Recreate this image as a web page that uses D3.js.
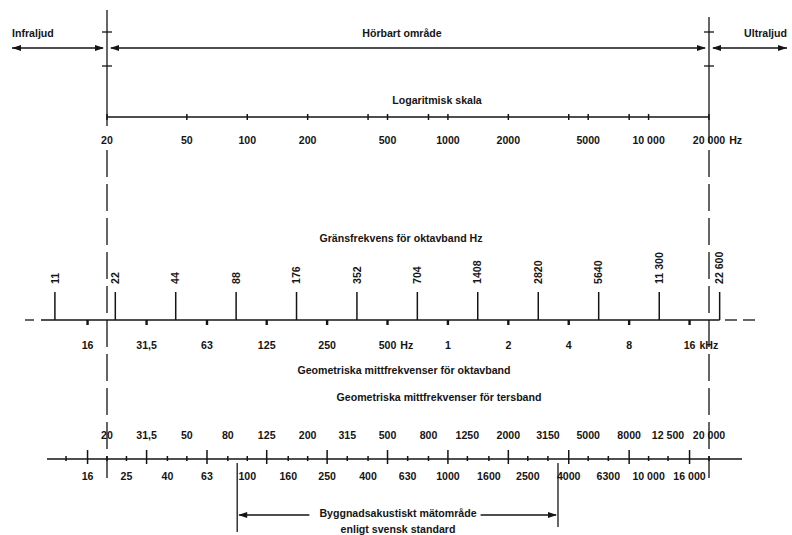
<!DOCTYPE html>
<html>
<head>
<meta charset="utf-8">
<script src="https://cdn.jsdelivr.net/npm/d3@7"></script>
<style>
  html, body { margin: 0; padding: 0; background: #fff; }
  svg text {
    font-family: "Liberation Sans", Arial, Helvetica, sans-serif;
    font-weight: bold;
    font-size: 10.6px;
    fill: #151515;
  }
</style>
</head>
<body>
<svg id="chart" width="792" height="535"></svg>
<script>
// Logarithmic frequency scale (Hz)
const logTicks  = [20, 50, 100, 200, 400, 500, 800, 1000, 2000, 4000, 5000, 8000, 10000, 20000];
const logLabels = [20, 50, 100, 200, 500, 1000, 2000, 5000, 10000, 20000];

// Octave band limits (Hz)
const octaveEdges = [11, 22, 44, 88, 176, 352, 704, 1408, 2820, 5640, 11300, 22600];

// Octave band centre frequencies
const octaveCenters     = [16, 31.5, 63, 125, 250, 500, 1000, 2000, 4000, 8000, 16000];
const octaveCenterText  = ["16", "31,5", "63", "125", "250", "500", "1", "2", "4", "8", "16"];
const octaveCenterUnits = ["", "", "", "", "", "Hz", "", "", "", "", "kHz"];

// Third-octave band centre frequencies
const thirdMajor = [16, 31.5, 63, 125, 250, 500, 1000, 2000, 4000, 8000, 16000];
const thirdMinor = [12.5, 20, 25, 40, 50, 80, 100, 160, 200, 315, 400, 630, 800, 1250, 1600,
                    2500, 3150, 5000, 6300, 10000, 12500, 20000];
const thirdUpper = [20, 31.5, 50, 80, 125, 200, 315, 500, 800, 1250, 2000, 3150, 5000, 8000, 12500, 20000];
const thirdLower = [16, 25, 40, 63, 100, 160, 250, 400, 630, 1000, 1600, 2500, 4000, 6300, 10000, 16000];

// Building-acoustics measurement range: third-octave bands 100 Hz .. 3150 Hz
const measureBands = [100, 3150];

const ink = "#151515";
const svg = d3.select("#chart");
const x = d3.scaleLog().domain([20, 20000]).range([107, 709]);
const xL = x(20), xR = x(20000);

// Swedish style numbers: decimal comma, space grouping from 10 000 up
function fmt(v) {
  if (v >= 10000) return d3.format(",")(v).replace(/,/g, " ");
  return String(v).replace(".", ",");
}

function seg(x1, y1, x2, y2, w = 1.3, dash = null) {
  const l = svg.append("line")
    .attr("x1", x1).attr("y1", y1).attr("x2", x2).attr("y2", y2)
    .attr("stroke", ink).attr("stroke-width", w);
  if (dash) l.attr("stroke-dasharray", dash);
  return l;
}
function head(px, py, dir) {
  svg.append("path")
    .attr("d", `M${px},${py}L${px - dir * 9},${py - 3}L${px - dir * 9},${py + 3}Z`)
    .attr("fill", ink);
}
function text(t, px, py, anchor = "middle") {
  return svg.append("text").attr("x", px).attr("y", py)
    .attr("text-anchor", anchor).text(t);
}

// ---- Range boundaries at 20 Hz and 20 kHz ----
seg(xL, 10, xL, 126);
seg(xR, 17, xR, 143);
seg(xL, 150, xL, 478, 1.3, "27,7");
seg(xR, 150, xR, 478, 1.3, "27,7");
[32, 66].forEach(y => { seg(xL - 5, y, xL + 5, y); seg(xR - 5, y, xR + 5, y); });

// ---- Infra / audible / ultra arrows ----
const ay = 48;
seg(12, ay, xL - 4, ay); head(12, ay, -1); head(xL - 3, ay, 1);
seg(xL + 4, ay, xR - 4, ay); head(xL + 3, ay, -1); head(xR - 3, ay, 1);
seg(xR + 4, ay, 787, ay); head(xR + 3, ay, -1); head(787, ay, 1);
text("Infraljud", 12, 37, "start");
text("Hörbart område", 402, 37);
text("Ultraljud", 787, 37, "end");

// ---- Logarithmic scale ----
text("Logaritmisk skala", 437, 104);
seg(xL, 117, xR, 117);
logTicks.forEach(f => seg(x(f), 114, x(f), 120, 1.5));
logLabels.forEach(f => {
  const t = text(fmt(f), x(f), 144);
  if (f === 20000) {
    const w = t.node().getComputedTextLength();
    text("Hz", x(f) + w / 2 + 4, 144, "start");
  }
});

// ---- Octave bands ----
const oy = 320;
text("Gränsfrekvens för oktavband Hz", 401, 242);
seg(25, oy, 34, oy);
seg(41, oy, x(22600), oy);
seg(725, oy, 737, oy);
seg(743, oy, 755, oy);
octaveEdges.forEach(f => {
  seg(x(f), oy, x(f), oy - 28, 1.5);
  svg.append("text")
    .attr("transform", `translate(${x(f)},${oy - 36}) rotate(-90)`)
    .attr("text-anchor", "start").attr("dy", "0.35em")
    .text(fmt(f));
});
octaveCenters.forEach((f, i) => {
  seg(x(f), oy, x(f), oy + 5, 2.4);
  const t = text(octaveCenterText[i], x(f), 349);
  if (octaveCenterUnits[i]) {
    const w = t.node().getComputedTextLength();
    text(octaveCenterUnits[i], x(f) + w / 2 + 4, 349, "start");
  }
});
text("Geometriska mittfrekvenser för oktavband", 404, 374);

// ---- Third-octave bands ----
const ty = 459;
text("Geometriska mittfrekvenser för tersband", 439, 401);
seg(47, ty, 742, ty);
thirdMajor.forEach(f => seg(x(f), ty - 9, x(f), ty + 5, 1.5));
thirdMinor.forEach(f => seg(x(f), ty - 3, x(f), ty + 2, 1.5));
thirdUpper.forEach(f => text(fmt(f), x(f), 439));
thirdLower.forEach(f => text(fmt(f), x(f), 480));

// ---- Measurement range bracket ----
const step = Math.pow(2, 1 / 6);
const bx1 = x(measureBands[0] / step), bx2 = x(measureBands[1] * step);
const by = 515;
seg(bx1, ty + 4, bx1, 532);
seg(bx2, ty + 4, bx2, 527);
const cap = text("Byggnadsakustiskt mätområde", 398, 517);
text("enligt svensk standard", 398, 533);
const cw = cap.node().getComputedTextLength();
seg(bx1 + 2, by, 398 - cw / 2 - 10, by); head(bx1 + 1, by, -1);
seg(398 + cw / 2 + 4, by, bx2 - 2, by); head(bx2 - 1, by, 1);
</script>
</body>
</html>
